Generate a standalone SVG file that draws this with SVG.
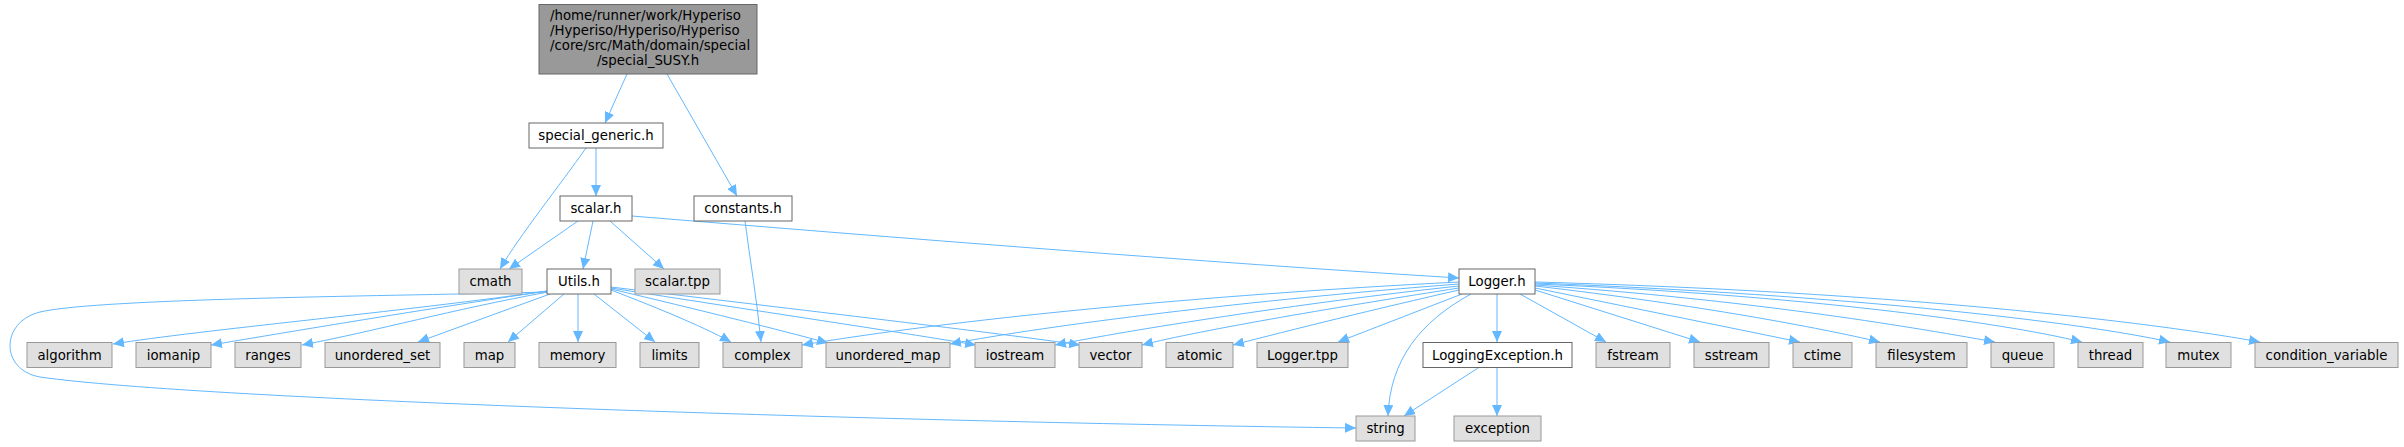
<svg xmlns="http://www.w3.org/2000/svg" width="2404" height="447" viewBox="0 0 2404 447">
<style>
  text { font-family: "DejaVu Sans", "Liberation Sans", sans-serif; font-size: 13.3px; fill: #000000; text-anchor: middle; }
  text.l { text-anchor: start; }
  .root rect { fill: #999999; stroke: #666666; stroke-width: 1; }
  .doc rect { fill: #ffffff; stroke: #666666; stroke-width: 1; }
  .ext rect { fill: #e0e0e0; stroke: #999999; stroke-width: 1; }
  #edges path { fill: none; stroke: #63b8ff; stroke-width: 1; marker-end: url(#ah); }
</style>
<defs>
  <marker id="ah" viewBox="0 0 11 10" refX="11" refY="5" markerWidth="11" markerHeight="10" markerUnits="userSpaceOnUse" orient="auto">
    <path d="M0,0 L11,5 L0,10 z" fill="#63b8ff"/>
  </marker>
</defs>
<rect x="0" y="0" width="2404" height="447" fill="#ffffff"/>

<g id="edges">
  <path d="M627,74 L605,123"/>
  <path d="M667,74 L737,196"/>
  <path d="M586,148 C560,185 520,235 500,269"/>
  <path d="M596,148 L596,196"/>
  <path d="M578,221 L509,269"/>
  <path d="M593,221 L583,269"/>
  <path d="M610,221 L664,269"/>
  <path d="M632,216 C900,238 1200,262 1459,278"/>
  <path d="M745,221 C750,260 757,300 761,342"/>
  <path d="M547,292 C400,296 100,298 40,312 C0,322 0,370 40,377 C200,400 900,422 1356,428"/>
  <path d="M547,291 C400,312 200,330 113,344"/>
  <path d="M547,291 C420,310 300,330 211,345"/>
  <path d="M548,292 C450,310 380,330 302,345"/>
  <path d="M550,294 L418,342"/>
  <path d="M564,294 L508,342"/>
  <path d="M578,294 L578,342"/>
  <path d="M594,294 L655,342"/>
  <path d="M611,290 C650,305 700,325 731,342"/>
  <path d="M611,289 C700,310 780,330 828,343"/>
  <path d="M611,288 C750,310 900,332 976,345"/>
  <path d="M611,287 C800,310 1000,333 1080,345"/>
  <path d="M1459,282 C1200,295 950,320 802,345"/>
  <path d="M1459,284 C1250,300 1050,325 950,344"/>
  <path d="M1459,286 C1300,303 1130,330 1055,345"/>
  <path d="M1459,288 C1350,305 1200,330 1142,345"/>
  <path d="M1459,290 C1380,308 1290,330 1233,345"/>
  <path d="M1462,294 L1338,342"/>
  <path d="M1471,294 C1420,322 1390,360 1388,416"/>
  <path d="M1497,294 L1497,342"/>
  <path d="M1520,294 L1606,342"/>
  <path d="M1535,290 L1700,342"/>
  <path d="M1535,288 L1800,342"/>
  <path d="M1535,286 C1700,305 1820,328 1880,342"/>
  <path d="M1535,285 C1750,300 1900,325 1995,342"/>
  <path d="M1535,284 C1800,295 2000,322 2082,342"/>
  <path d="M1535,283 C1850,295 2080,322 2170,342"/>
  <path d="M1535,282 C1900,292 2150,322 2260,342"/>
  <path d="M1478,368 L1404,416"/>
  <path d="M1497,368 L1497,416"/>
</g>

<g id="n_special_SUSY" class="root">
  <rect x="539" y="4.5" width="218" height="69.5"/>
  <text class="l" x="550" y="20">/home/runner/work/Hyperiso</text>
  <text class="l" x="550" y="35">/Hyperiso/Hyperiso/Hyperiso</text>
  <text class="l" x="550" y="50">/core/src/Math/domain/special</text>
  <text x="648" y="65">/special_SUSY.h</text>
</g>
<g id="n_special_generic" class="doc"><rect x="529" y="123" width="134" height="25"/><text x="596" y="140">special_generic.h</text></g>
<g id="n_scalar" class="doc"><rect x="560" y="196" width="72" height="25"/><text x="596" y="213">scalar.h</text></g>
<g id="n_constants" class="doc"><rect x="694" y="196" width="98" height="25"/><text x="743" y="213">constants.h</text></g>
<g id="n_cmath" class="ext"><rect x="459" y="269" width="63" height="25"/><text x="490.5" y="286">cmath</text></g>
<g id="n_Utils" class="doc"><rect x="547" y="269" width="64" height="25"/><text x="579" y="286">Utils.h</text></g>
<g id="n_scalar_tpp" class="ext"><rect x="635" y="269" width="85" height="25"/><text x="677.5" y="286">scalar.tpp</text></g>
<g id="n_Logger" class="doc"><rect x="1459" y="269" width="76" height="25"/><text x="1497" y="286">Logger.h</text></g>

<g id="n_algorithm" class="ext"><rect x="27" y="342.5" width="85" height="25"/><text x="69.5" y="359.5">algorithm</text></g>
<g id="n_iomanip" class="ext"><rect x="136" y="342.5" width="75" height="25"/><text x="173.5" y="359.5">iomanip</text></g>
<g id="n_ranges" class="ext"><rect x="235" y="342.5" width="66" height="25"/><text x="268" y="359.5">ranges</text></g>
<g id="n_unordered_set" class="ext"><rect x="325" y="342.5" width="115" height="25"/><text x="382.5" y="359.5">unordered_set</text></g>
<g id="n_map" class="ext"><rect x="464" y="342.5" width="51" height="25"/><text x="489.5" y="359.5">map</text></g>
<g id="n_memory" class="ext"><rect x="539" y="342.5" width="77" height="25"/><text x="577.5" y="359.5">memory</text></g>
<g id="n_limits" class="ext"><rect x="640" y="342.5" width="59" height="25"/><text x="669.5" y="359.5">limits</text></g>
<g id="n_complex" class="ext"><rect x="723" y="342.5" width="79" height="25"/><text x="762.5" y="359.5">complex</text></g>
<g id="n_unordered_map" class="ext"><rect x="826" y="342.5" width="124" height="25"/><text x="888" y="359.5">unordered_map</text></g>
<g id="n_iostream" class="ext"><rect x="975" y="342.5" width="80" height="25"/><text x="1015" y="359.5">iostream</text></g>
<g id="n_vector" class="ext"><rect x="1079" y="342.5" width="63" height="25"/><text x="1110.5" y="359.5">vector</text></g>
<g id="n_atomic" class="ext"><rect x="1166" y="342.5" width="67" height="25"/><text x="1199.5" y="359.5">atomic</text></g>
<g id="n_Logger_tpp" class="ext"><rect x="1257" y="342.5" width="91" height="25"/><text x="1302.5" y="359.5">Logger.tpp</text></g>
<g id="n_LoggingException" class="doc"><rect x="1423" y="342.5" width="149" height="25"/><text x="1497.5" y="359.5">LoggingException.h</text></g>
<g id="n_fstream" class="ext"><rect x="1596" y="342.5" width="74" height="25"/><text x="1633" y="359.5">fstream</text></g>
<g id="n_sstream" class="ext"><rect x="1694" y="342.5" width="75" height="25"/><text x="1731.5" y="359.5">sstream</text></g>
<g id="n_ctime" class="ext"><rect x="1793" y="342.5" width="59" height="25"/><text x="1822.5" y="359.5">ctime</text></g>
<g id="n_filesystem" class="ext"><rect x="1876" y="342.5" width="91" height="25"/><text x="1921.5" y="359.5">filesystem</text></g>
<g id="n_queue" class="ext"><rect x="1991" y="342.5" width="63" height="25"/><text x="2022.5" y="359.5">queue</text></g>
<g id="n_thread" class="ext"><rect x="2078" y="342.5" width="65" height="25"/><text x="2110.5" y="359.5">thread</text></g>
<g id="n_mutex" class="ext"><rect x="2166" y="342.5" width="65" height="25"/><text x="2198.5" y="359.5">mutex</text></g>
<g id="n_condition_variable" class="ext"><rect x="2255" y="342.5" width="143" height="25"/><text x="2326.5" y="359.5">condition_variable</text></g>

<g id="n_string" class="ext"><rect x="1356" y="416" width="59" height="25"/><text x="1385.5" y="433">string</text></g>
<g id="n_exception" class="ext"><rect x="1454" y="416" width="87" height="25"/><text x="1497.5" y="433">exception</text></g>
</svg>
